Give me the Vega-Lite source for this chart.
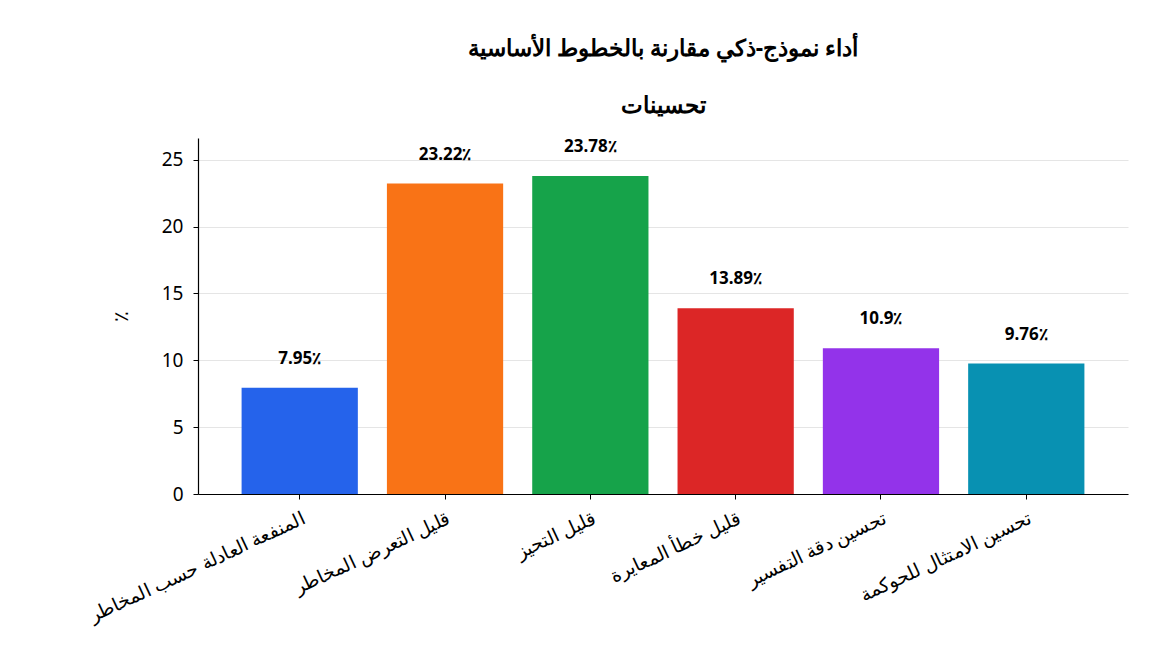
{
  "$schema": "https://vega.github.io/schema/vega-lite/v6.json",
  "width": 930,
  "height": 356,
  "autosize": {"type": "none"},
  "padding": {"left": 198, "top": 138, "right": 24, "bottom": 178},
  "background": "white",
  "title": {
    "text": ["أداء نموذج-ذكي مقارنة بالخطوط الأساسية", "تحسينات"],
    "font": "Noto Sans",
    "fontSize": 23,
    "fontWeight": "bold",
    "color": "#000000",
    "anchor": "middle",
    "lineHeight": 57,
    "offset": 20
  },
  "data": {
    "values": [
      {"category": "المنفعة العادلة حسب المخاطر", "value": 7.95, "label": "7.95٪"},
      {"category": "قليل التعرض المخاطر", "value": 23.22, "label": "23.22٪"},
      {"category": "قليل التحيز", "value": 23.78, "label": "23.78٪"},
      {"category": "قليل خطأ المعايرة", "value": 13.89, "label": "13.89٪"},
      {"category": "تحسين دقة التفسير", "value": 10.9, "label": "10.9٪"},
      {"category": "تحسين الامتثال للحوكمة", "value": 9.76, "label": "9.76٪"}
    ]
  },
  "config": {
    "view": {"stroke": null},
    "font": "Noto Sans",
    "axis": {
      "labelFont": "Noto Sans",
      "titleFont": "Noto Sans",
      "labelColor": "#000000",
      "titleColor": "#000000",
      "domainColor": "#000000",
      "domainWidth": 1.2,
      "tickColor": "#000000",
      "labelFontSize": 19,
      "titleFontSize": 20,
      "titleFontWeight": "normal"
    }
  },
  "encoding": {
    "x": {
      "field": "category",
      "type": "nominal",
      "sort": null,
      "scale": {"paddingInner": 0.2, "paddingOuter": 0.3},
      "axis": {
        "title": null,
        "labelAngle": -25,
        "labelAlign": "right",
        "labelBaseline": "top",
        "labelPadding": 10,
        "tickSize": 5,
        "labelLimit": 500,
        "grid": false
      }
    },
    "y": {
      "field": "value",
      "type": "quantitative",
      "scale": {"domain": [0, 26.63], "nice": false, "zero": true},
      "axis": {
        "title": "٪",
        "titlePadding": 30,
        "values": [0, 5, 10, 15, 20, 25],
        "tickSize": 5,
        "labelPadding": 10,
        "grid": true,
        "gridColor": "#e5e5e5",
        "gridWidth": 1
      }
    }
  },
  "layer": [
    {
      "mark": {"type": "bar"},
      "encoding": {
        "color": {
          "field": "category",
          "type": "nominal",
          "sort": null,
          "legend": null,
          "scale": {"range": ["#2563eb", "#f97316", "#16a34a", "#dc2626", "#9333ea", "#0891b2"]}
        }
      }
    },
    {
      "mark": {"type": "text", "dy": -29, "fontSize": 17, "fontWeight": "bold", "color": "#000000", "font": "Noto Sans"},
      "encoding": {"text": {"field": "label"}}
    }
  ]
}
